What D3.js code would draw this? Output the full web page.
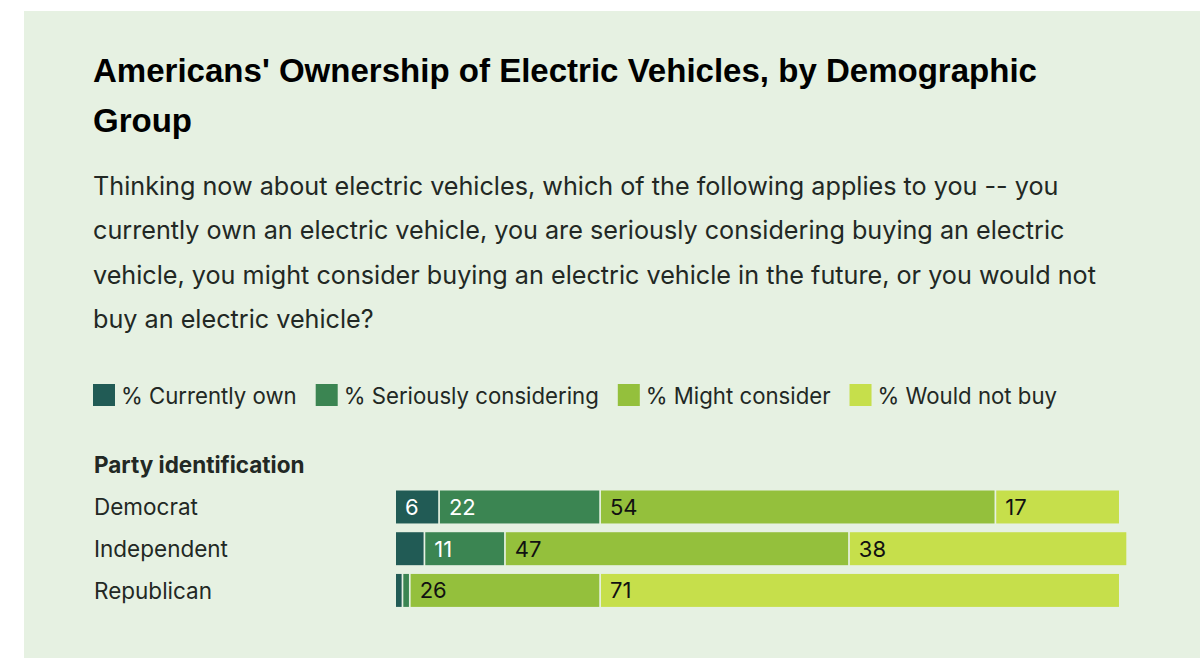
<!DOCTYPE html>
<html>
<head>
<meta charset="utf-8">
<script src="https://cdn.jsdelivr.net/npm/d3@7"></script>
<style>
	body { margin: 0; background: #ffffff; }
	svg { display: block; }
</style>
</head>
<body>
<div id="chart"></div>
<script>
// Chart data
const categories = ["Democrat", "Independent", "Republican"];
const seriesNames = ["% Currently own", "% Seriously considering", "% Might consider", "% Would not buy"];
const currentlyOwn = [6, 4, 1];
const seriouslyConsidering = [22, 11, 1];
const mightConsider = [54, 47, 26];
const wouldNotBuy = [17, 38, 71];
const groupLabel = "Party identification";
const titleLines = ["Americans' Ownership of Electric Vehicles, by Demographic", "Group"];
const subtitleLines = [
	"Thinking now about electric vehicles, which of the following applies to you -- you",
	"currently own an electric vehicle, you are seriously considering buying an electric",
	"vehicle, you might consider buying an electric vehicle in the future, or you would not",
	"buy an electric vehicle?"
];

const colors = ["#215b55", "#3b8552", "#94c03c", "#c6df4b"];
const labelColors = ["#ffffff", "#ffffff", "#111111", "#111111"];
const bodyFont = "Inter, 'Liberation Sans', Arial, sans-serif";
const textColor = "#222824";

function drawChart() {
	const width = 1200, height = 658;
	const svg = d3.select("#chart")
		.append("svg")
		.attr("width", width)
		.attr("height", height);

	// Panel background
	svg.append("rect")
		.attr("x", 24).attr("y", 11)
		.attr("width", width - 24).attr("height", height - 11)
		.attr("fill", "#e6f1e2");

	// Title
	svg.append("g")
		.selectAll("text")
		.data(titleLines)
		.join("text")
		.attr("x", 93)
		.attr("y", (d, i) => 82 + i * 50)
		.attr("font-family", "'Liberation Sans', Arial, sans-serif")
		.attr("font-weight", "bold")
		.attr("font-size", 33)
		.attr("fill", "#000000")
		.text((d) => d)
		.each(function (d, i) {
			if (i === 0) d3.select(this).attr("textLength", 944).attr("lengthAdjust", "spacingAndGlyphs");
		});

	// Subtitle (question wording)
	svg.append("g")
		.selectAll("text")
		.data(subtitleLines)
		.join("text")
		.attr("x", 93)
		.attr("y", (d, i) => 195 + i * 44.3)
		.attr("font-family", bodyFont)
		.attr("font-size", 25.2)
		.attr("fill", textColor)
		.text((d) => d);

	// Legend
	const legend = svg.append("g").attr("transform", "translate(93,384)");
	let lx = 0;
	seriesNames.forEach((name, i) => {
		const item = legend.append("g").attr("transform", `translate(${lx},0)`);
		item.append("rect")
			.attr("width", 22).attr("height", 22)
			.attr("fill", colors[i]);
		const t = item.append("text")
			.attr("x", 28).attr("y", 20)
			.attr("font-family", bodyFont)
			.attr("font-size", 22.2)
			.attr("fill", textColor)
			.text(name);
		lx += 28 + t.node().getComputedTextLength() + 19;
	});

	// Group heading
	svg.append("text")
		.attr("x", 94).attr("y", 473)
		.attr("font-family", bodyFont)
		.attr("font-weight", "bold")
		.attr("font-size", 22.5)
		.attr("fill", textColor)
		.text(groupLabel);

	// Scales
	const x = d3.scaleLinear().domain([0, 100]).range([396, 1128]);
	const y = d3.scaleBand()
		.domain(categories)
		.range([490.5, 606.9])
		.paddingInner(0.21)
		.paddingOuter(0);

	// Stack the series
	const rows = categories.map((c, i) => ({
		category: c,
		values: [currentlyOwn[i], seriouslyConsidering[i], mightConsider[i], wouldNotBuy[i]]
	}));
	const segments = [];
	rows.forEach((r) => {
		let acc = 0;
		r.values.forEach((v, k) => {
			segments.push({ category: r.category, series: k, value: v, start: acc, end: acc + v });
			acc += v;
		});
	});

	// Row labels
	svg.append("g")
		.selectAll("text")
		.data(categories)
		.join("text")
		.attr("x", 94)
		.attr("y", (d) => y(d) + y.bandwidth() / 2 + 8.5)
		.attr("font-family", bodyFont)
		.attr("font-size", 22.5)
		.attr("fill", textColor)
		.text((d) => d);

	// Bars
	const gap = 1.7;
	svg.append("g")
		.selectAll("rect")
		.data(segments)
		.join("rect")
		.attr("x", (d) => x(d.start))
		.attr("y", (d) => y(d.category))
		.attr("width", (d) => Math.max(0, x(d.end) - x(d.start) - gap))
		.attr("height", y.bandwidth())
		.attr("fill", (d) => colors[d.series]);

	// Value labels (only where the segment is wide enough)
	svg.append("g")
		.selectAll("text")
		.data(segments.filter((d) => d.value >= 5))
		.join("text")
		.attr("x", (d) => x(d.start) + 9)
		.attr("y", (d) => y(d.category) + y.bandwidth() / 2 + 8)
		.attr("font-family", bodyFont)
		.attr("font-size", 22)
		.attr("fill", (d) => labelColors[d.series])
		.text((d) => d.value);
}

document.addEventListener("DOMContentLoaded", drawChart);
</script>
</body>
</html>
